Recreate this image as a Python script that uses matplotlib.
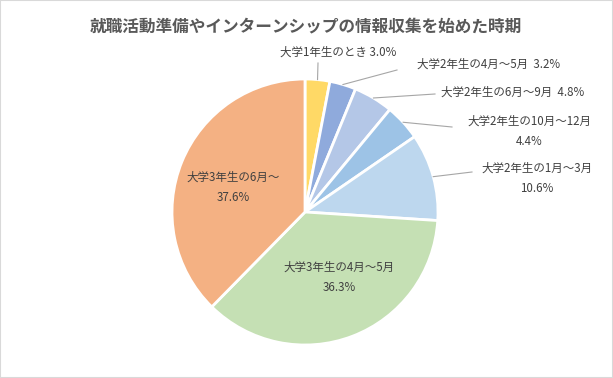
import matplotlib.pyplot as plt
import numpy as np
from matplotlib.patches import Rectangle

plt.rcParams['font.family'] = ['Noto Sans CJK JP', 'DejaVu Sans']

title = "就職活動準備やインターンシップの情報収集を始めた時期"
categories = [
    "大学1年生のとき",
    "大学2年生の4月～5月",
    "大学2年生の6月～9月",
    "大学2年生の10月～12月",
    "大学2年生の1月～3月",
    "大学3年生の4月～5月",
    "大学3年生の6月～",
]
values = [3.0, 3.2, 4.8, 4.4, 10.6, 36.3, 37.6]
colors = ["#FFD966", "#8FAADC", "#B4C7E7", "#9DC3E6", "#BDD7EE", "#C5E0B4", "#F4B183"]

W, H = 613, 378
cx, cy, radius = 305, 212, 133

# label layout (pixel coords, y from top)
outside_labels = {
    0: dict(xy=(338, 52), sep=" ", end=(318, 63)),
    1: dict(xy=(489, 64), sep="  ", end=(397, 70)),
    2: dict(xy=(513, 92), sep="  ", end=(435, 94)),
    3: dict(xy=(529, 131), sep="\n", end=(452, 127)),
    4: dict(xy=(537, 178), sep="\n", end=(472, 172)),
}
inside_labels = {
    5: (339, 277),
    6: (233, 187),
}

fig = plt.figure(figsize=(W / 100, H / 100), dpi=100)
ax = fig.add_axes([0, 0, 1, 1])

wedges, _ = ax.pie(values, colors=colors, startangle=90, counterclock=False,
                   center=(cx, H - cy), radius=radius,
                   wedgeprops=dict(edgecolor="white", linewidth=2))
ax.set_xlim(0, W)
ax.set_ylim(0, H)
ax.set_aspect("auto")
ax.axis("off")

text_color = "#404040"
fs = 8.3

for i, opts in outside_labels.items():
    w = wedges[i]
    mid = np.deg2rad((w.theta1 + w.theta2) / 2)
    px = cx + radius * np.cos(mid)
    py = H - cy + radius * np.sin(mid)
    ex, ey = opts["end"]
    ax.plot([px, ex], [py, H - ey], color="#A6A6A6", lw=0.8)
    s = f"{categories[i]}{opts['sep']}{values[i]:.1f}%"
    x, y = opts["xy"]
    ax.text(x, H - y, s, ha="center", va="center", fontsize=fs,
            color=text_color, linespacing=1.75)

for i, (x, y) in inside_labels.items():
    ax.text(x, H - y, f"{categories[i]}\n{values[i]:.1f}%", ha="center", va="center",
            fontsize=fs, color=text_color, linespacing=1.75)

ax.text(306, H - 26, title, ha="center", va="center", fontsize=12,
        fontweight="bold", color="#595959")

fig.patches.append(Rectangle((0, 0), 1, 1, transform=fig.transFigure, fill=False,
                             edgecolor="#D9D9D9", linewidth=1.5))

fig.savefig("out.png", dpi=100)
